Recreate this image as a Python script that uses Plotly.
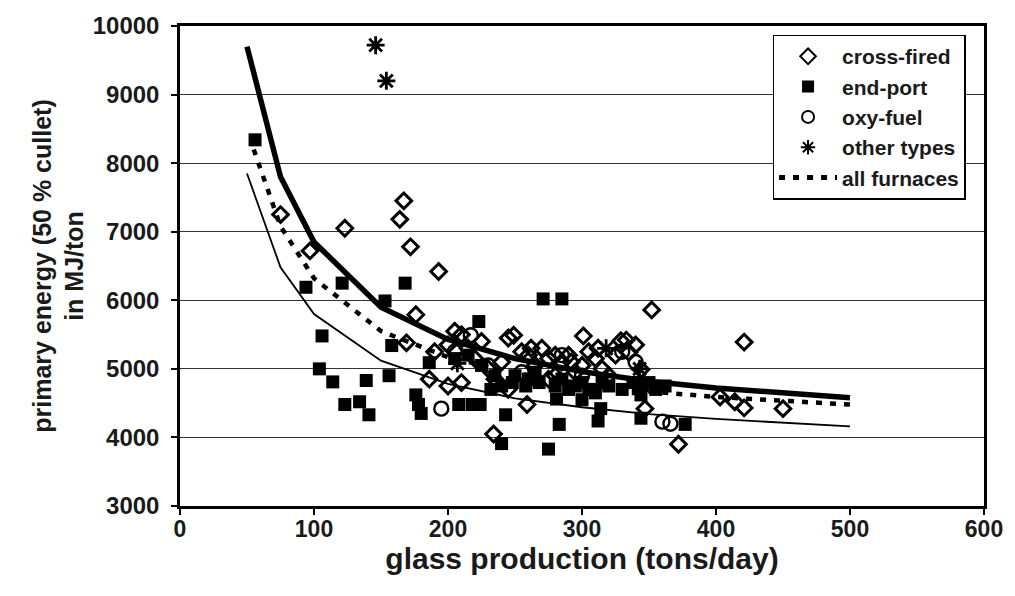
import plotly.graph_objects as go

# ---- data ----
cross_x = [75, 97, 123, 164, 167, 172, 193, 176, 169, 190, 186,
           200, 205, 210, 215, 220, 225, 230, 235, 240, 245, 249, 255, 260, 265,
           270, 275, 280, 285, 290, 295, 301, 305, 310, 315, 320, 325, 329, 333,
           335, 340, 344, 347, 352, 372, 234, 259, 403, 414, 421, 450, 421,
           210, 200, 245, 275, 300, 262, 280, 292, 312]
cross_y = [7250, 6720, 7050, 7180, 7450, 6780, 6420, 5790, 5380, 5250, 4850,
           5350, 5550, 5500, 5300, 5150, 5400, 5000, 4850, 5100, 5450, 5490, 5250, 5200, 5050,
           5300, 5150, 4900, 5100, 5200, 4950, 5480, 5250, 5150, 5000, 4900, 5200, 5410, 5420,
           5240, 5350, 4990, 4420, 5860, 3900, 4050, 4480, 4590, 4520, 4430, 4420, 5390,
           4800, 4750, 4700, 4850, 5050, 5300, 5200, 5100, 5300]

end_x = [56, 94, 104, 106, 114, 121, 123, 134, 139, 141, 153, 156, 158, 168, 176, 178, 180,
         186, 208, 218, 223, 224, 240, 243, 271, 285, 275, 283, 281, 300, 312, 314, 344, 342,
         377, 344, 205, 215, 225, 235, 240, 250, 260, 265, 280, 290, 300, 310, 320, 330, 345, 355,
         232, 248, 258, 268, 285, 295, 305, 315, 338, 350, 362]
end_y = [8340, 6190, 5000, 5480, 4810, 6250, 4480, 4520, 4830, 4330, 5990, 4900, 5340, 6250,
         4620, 4480, 4350, 5090, 4480, 4480, 5690, 4480, 3910, 4330, 6020, 6020, 3830, 4190,
         4560, 4550, 4240, 4420, 4280, 4710, 4190, 4620, 5150, 5200, 5050, 4900, 4750, 4900,
         4850, 4950, 4750, 4700, 4800, 4650, 4750, 4700, 4750, 4700,
         4700, 4800, 4750, 4800, 4850, 4750, 4700, 4800, 4800, 4800, 4750]

oxy_x = [195, 217, 360, 366, 230, 255, 285, 330, 340, 205, 300]
oxy_y = [4420, 5490, 4230, 4200, 5050, 4950, 5200, 5250, 5100, 5250, 4900]

other_x = [146, 154, 207, 318, 343]
other_y = [9720, 9200, 5080, 5300, 5000]

curve_x = [50, 75, 100, 150, 200, 250, 300, 350, 400, 450, 500]
thick_y = [9700, 7800, 6850, 5900, 5430, 5150, 4960, 4820, 4720, 4640, 4580]
thin_y = [7850, 6480, 5800, 5120, 4780, 4570, 4440, 4340, 4270, 4210, 4160]

all_x = [55, 75, 100, 150, 200, 250, 300, 350, 400, 450, 500]
all_y = [8200, 7080, 6320, 5550, 5170, 4940, 4780, 4670, 4590, 4530, 4480]

x_ticks = [0, 100, 200, 300, 400, 500, 600]
y_ticks = [3000, 4000, 5000, 6000, 7000, 8000, 9000, 10000]

FONT = "Liberation Sans, Arial, sans-serif"
BLACK = "#000000"
TXT = "#1a1a1a"

fig = go.Figure()

fig.add_trace(go.Scatter(x=curve_x, y=thick_y, mode="lines", showlegend=False,
                         line=dict(color=BLACK, width=5.5)))
fig.add_trace(go.Scatter(x=curve_x, y=thin_y, mode="lines", showlegend=False,
                         line=dict(color=BLACK, width=1.8)))

fig.add_trace(go.Scatter(x=cross_x, y=cross_y, mode="markers", name="cross-fired",
                         marker=dict(symbol="diamond-open", size=12, color=BLACK,
                                     line=dict(width=3, color=BLACK))))
fig.add_trace(go.Scatter(x=end_x, y=end_y, mode="markers", name="end-port",
                         marker=dict(symbol="square", size=13, color=BLACK,
                                     line=dict(width=0))))
fig.add_trace(go.Scatter(x=oxy_x, y=oxy_y, mode="markers", name="oxy-fuel",
                         marker=dict(symbol="circle-open", size=14, color=BLACK,
                                     line=dict(width=2.4, color=BLACK))))
fig.add_trace(go.Scatter(x=other_x, y=other_y, mode="markers", name="other types",
                         marker=dict(symbol="asterisk-open", size=15, color=BLACK,
                                     line=dict(width=2.8, color=BLACK))))
fig.add_trace(go.Scatter(x=all_x, y=all_y, mode="lines", name="all furnaces",
                         line=dict(color=BLACK, width=4.5, dash="6px,8px")))

fig.update_layout(
    width=1015, height=596,
    margin=dict(l=180, r=28, t=17, b=90),
    paper_bgcolor="white", plot_bgcolor="white",
    font=dict(family=FONT, color=TXT, size=17),
    legend=dict(x=0.737, y=0.982, xanchor="left", yanchor="top",
                bgcolor="white", bordercolor=BLACK, borderwidth=1.5,
                font=dict(family=FONT, size=21, color=TXT, weight="bold"),
                tracegroupgap=0, itemsizing="constant", itemwidth=58),
    xaxis=dict(range=[0, 600], tickvals=x_ticks, ticks="outside", ticklen=6,
               tickwidth=1.5, tickcolor=BLACK, showgrid=False, zeroline=False,
               showline=True, linecolor=BLACK, linewidth=2.5, mirror=True,
               ticklabelstandoff=-5,
               tickfont=dict(family=FONT, size=23, weight="bold"),
               title=dict(text="glass production (tons/day)",
                          font=dict(family=FONT, size=30, weight="bold"), standoff=0)),
    yaxis=dict(range=[3000, 10000], tickvals=y_ticks, tickformat="d", ticks="outside",
               ticklen=6, tickwidth=1.5, tickcolor=BLACK, showgrid=True,
               gridcolor="#333333", gridwidth=1.2, zeroline=False,
               showline=True, linecolor=BLACK, linewidth=2.5, mirror=True,
               ticklabelstandoff=7,
               tickfont=dict(family=FONT, size=24, weight="bold"),
               title=dict(text="primary energy (50 % cullet)<br>in MJ/ton",
                          font=dict(family=FONT, size=25, weight="bold"), standoff=2)),
)

fig.write_html("out.html")
